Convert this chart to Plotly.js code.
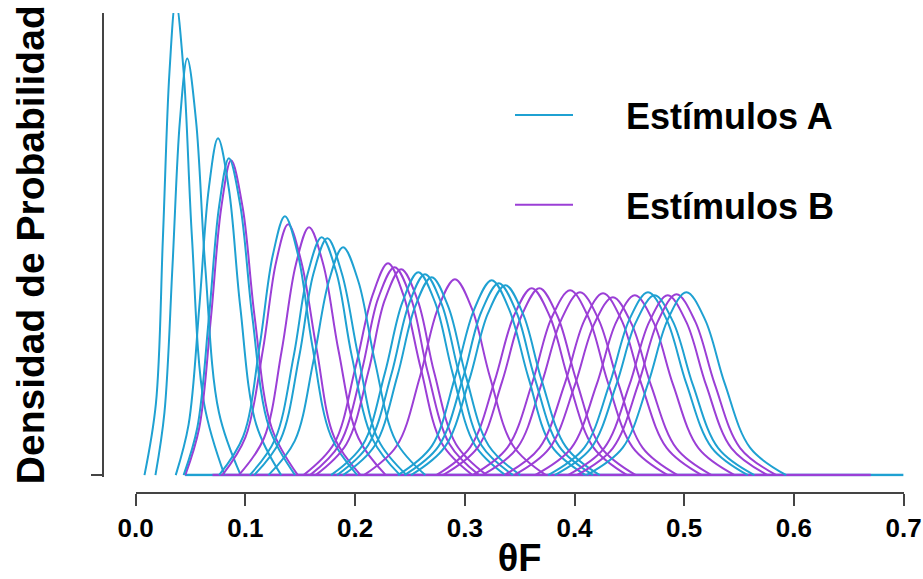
<!DOCTYPE html>
<html>
<head>
<meta charset="utf-8">
<script src="https://cdn.plot.ly/plotly-3.0.1.min.js"></script>
<style>
html, body { margin: 0; padding: 0; background: #ffffff; }
#chart { width: 923px; height: 579px; }
</style>
</head>
<body>
<div id="chart"></div>
<script>
// ---------- data ----------
const seriesNames = ['Estímulos A', 'Estímulos B'];
const xTickVals = [0, 0.1, 0.2, 0.3, 0.4, 0.5, 0.6, 0.7];
const xTickText = ['0.0', '0.1', '0.2', '0.3', '0.4', '0.5', '0.6', '0.7'];
const xTitle = 'θF';
const yTitle = 'Densidad de Probabilidad';

// Estímulos A: points along each density curve (feet, flanks, mode)
const A_x = [
  [0.008, 0.0184, 0.0248, 0.0308, 0.0365, 0.0437, 0.0513, 0.0624, 0.081],
  [0.018, 0.0262, 0.0335, 0.0403, 0.047, 0.055, 0.0634, 0.0759, 0.0957],
  [0.0365, 0.0482, 0.058, 0.0666, 0.075, 0.0849, 0.0953, 0.1099, 0.1326],
  [0.0437, 0.0562, 0.0668, 0.0761, 0.085, 0.0954, 0.1063, 0.1216, 0.1453],
  [0.076, 0.098, 0.113, 0.125, 0.136, 0.148, 0.161, 0.178, 0.202],
  [0.104, 0.127, 0.144, 0.157, 0.1695, 0.183, 0.197, 0.216, 0.241],
  [0.108, 0.132, 0.149, 0.162, 0.1747, 0.188, 0.203, 0.221, 0.247],
  [0.121, 0.145, 0.162, 0.176, 0.189, 0.203, 0.218, 0.237, 0.264],
  [0.178, 0.207, 0.227, 0.243, 0.2576, 0.273, 0.289, 0.309, 0.337],
  [0.1835, 0.212, 0.233, 0.249, 0.2637, 0.279, 0.295, 0.315, 0.344],
  [0.189, 0.218, 0.2385, 0.2546, 0.2698, 0.285, 0.301, 0.3217, 0.3506],
  [0.239, 0.270, 0.291, 0.3085, 0.3245, 0.3405, 0.358, 0.379, 0.410],
  [0.245, 0.276, 0.298, 0.315, 0.331, 0.347, 0.364, 0.386, 0.417],
  [0.251, 0.282, 0.304, 0.321, 0.337, 0.353, 0.370, 0.392, 0.423],
  [0.376, 0.409, 0.432, 0.450, 0.467, 0.484, 0.502, 0.525, 0.558],
  [0.382, 0.415, 0.438, 0.456, 0.473, 0.490, 0.508, 0.531, 0.564],
  [0.411, 0.444, 0.467, 0.485, 0.502, 0.519, 0.537, 0.560, 0.593]
];
const A_y = [
  [0, 5.18, 17.25, 29.33, 34.5, 29.33, 17.25, 5.18, 0],
  [0, 4.55, 15.15, 25.76, 30.3, 25.76, 15.15, 4.55, 0],
  [0, 3.67, 12.25, 20.82, 24.49, 20.82, 12.25, 3.67, 0],
  [0, 3.46, 11.52, 19.58, 23.04, 19.58, 11.52, 3.46, 0],
  [0, 2.82, 9.41, 16.0, 18.82, 16.0, 9.41, 2.82, 0],
  [0, 2.60, 8.65, 14.71, 17.30, 14.71, 8.65, 2.60, 0],
  [0, 2.58, 8.61, 14.64, 17.22, 14.64, 8.61, 2.58, 0],
  [0, 2.49, 8.29, 14.08, 16.57, 14.08, 8.29, 2.49, 0],
  [0, 2.21, 7.38, 12.54, 14.75, 12.54, 7.38, 2.21, 0],
  [0, 2.19, 7.31, 12.42, 14.61, 12.42, 7.31, 2.19, 0],
  [0, 2.16, 7.20, 12.23, 14.39, 12.23, 7.20, 2.16, 0],
  [0, 2.13, 7.09, 12.04, 14.17, 12.04, 7.09, 2.13, 0],
  [0, 2.09, 6.98, 11.86, 13.95, 11.86, 6.98, 2.09, 0],
  [0, 2.07, 6.91, 11.74, 13.81, 11.74, 6.91, 2.07, 0],
  [0, 2.00, 6.65, 11.31, 13.30, 11.31, 6.65, 2.00, 0],
  [0, 1.96, 6.54, 11.12, 13.08, 11.12, 6.54, 1.96, 0],
  [0, 2.00, 6.65, 11.31, 13.30, 11.31, 6.65, 2.00, 0]
];

// Estímulos B
const B_x = [
  [0.0452, 0.0579, 0.0686, 0.078, 0.087, 0.0975, 0.1085, 0.124, 0.1478],
  [0.079, 0.100, 0.116, 0.128, 0.139, 0.151, 0.165, 0.181, 0.205],
  [0.094, 0.117, 0.133, 0.146, 0.158, 0.171, 0.185, 0.203, 0.228],
  [0.153, 0.181, 0.200, 0.216, 0.230, 0.244, 0.260, 0.279, 0.307],
  [0.159, 0.186, 0.206, 0.221, 0.236, 0.251, 0.266, 0.286, 0.313],
  [0.164, 0.192, 0.212, 0.227, 0.242, 0.257, 0.272, 0.292, 0.320],
  [0.208, 0.238, 0.259, 0.2755, 0.291, 0.3065, 0.323, 0.344, 0.374],
  [0.274, 0.305, 0.327, 0.3446, 0.361, 0.3774, 0.395, 0.417, 0.448],
  [0.280, 0.312, 0.334, 0.3515, 0.368, 0.3845, 0.402, 0.424, 0.456],
  [0.307, 0.339, 0.3615, 0.379, 0.396, 0.413, 0.4305, 0.453, 0.485],
  [0.316, 0.348, 0.370, 0.388, 0.405, 0.422, 0.440, 0.462, 0.494],
  [0.336, 0.368, 0.391, 0.409, 0.426, 0.443, 0.461, 0.484, 0.516],
  [0.345, 0.377, 0.400, 0.418, 0.435, 0.452, 0.470, 0.493, 0.525],
  [0.364, 0.397, 0.420, 0.438, 0.455, 0.472, 0.490, 0.513, 0.546],
  [0.394, 0.427, 0.450, 0.468, 0.485, 0.502, 0.520, 0.543, 0.576],
  [0.402, 0.435, 0.458, 0.476, 0.493, 0.510, 0.528, 0.551, 0.584]
];
const B_y = [
  [0, 3.43, 11.45, 19.46, 22.89, 19.46, 11.45, 3.43, 0],
  [0, 2.74, 9.12, 15.50, 18.24, 15.50, 9.12, 2.74, 0],
  [0, 2.70, 9.01, 15.32, 18.02, 15.32, 9.01, 2.70, 0],
  [0, 2.31, 7.71, 13.10, 15.41, 13.10, 7.71, 2.31, 0],
  [0, 2.27, 7.56, 12.85, 15.12, 12.85, 7.56, 2.27, 0],
  [0, 2.25, 7.49, 12.72, 14.97, 12.72, 7.49, 2.25, 0],
  [0, 2.14, 7.12, 12.10, 14.24, 12.10, 7.12, 2.14, 0],
  [0, 2.04, 6.80, 11.55, 13.59, 11.55, 6.80, 2.04, 0],
  [0, 2.04, 6.80, 11.55, 13.59, 11.55, 6.80, 2.04, 0],
  [0, 2.02, 6.72, 11.42, 13.44, 11.42, 6.72, 2.02, 0],
  [0, 2.00, 6.65, 11.31, 13.30, 11.31, 6.65, 2.00, 0],
  [0, 1.98, 6.62, 11.25, 13.23, 11.25, 6.62, 1.98, 0],
  [0, 1.94, 6.47, 11.00, 12.94, 11.00, 6.47, 1.94, 0],
  [0, 1.96, 6.54, 11.12, 13.08, 11.12, 6.54, 1.96, 0],
  [0, 1.96, 6.54, 11.12, 13.08, 11.12, 6.54, 1.96, 0],
  [0, 1.97, 6.58, 11.18, 13.15, 11.18, 6.58, 1.97, 0]
];

// flat density tails along the baseline
const tailA_x = [0.045, 0.70];
const tailA_y = [0, 0];
const tailB_x = [0.07, 0.67];
const tailB_y = [0, 0];

// ---------- styling ----------
const colorA = '#1fa1d2';
const colorB = '#9b3fd6';
const fontFam = 'Liberation Sans, Arial, Helvetica, sans-serif';
const W = 923, H = 579;
// legend labels are pushed right of the short sample line by a wide space
const legendPad = '\u2003\u2004';

const traces = [];
traces.push({x: tailA_x, y: tailA_y, mode: 'lines', line: {color: colorA, width: 2.5},
  showlegend: false, hoverinfo: 'skip', legendgroup: 'A'});
traces.push({x: tailB_x, y: tailB_y, mode: 'lines', line: {color: colorB, width: 2.5},
  showlegend: false, hoverinfo: 'skip', legendgroup: 'B'});

const nMax = Math.max(A_x.length, B_x.length);
for (let i = 0; i < nMax; i++) {
  if (i < A_x.length) {
    traces.push({x: A_x[i], y: A_y[i], mode: 'lines', name: legendPad + seriesNames[0],
      legendgroup: 'A', showlegend: i === 0,
      line: {color: colorA, width: 2, shape: 'spline', smoothing: 1}});
  }
  if (i < B_x.length) {
    traces.push({x: B_x[i], y: B_y[i], mode: 'lines', name: legendPad + seriesNames[1],
      legendgroup: 'B', showlegend: i === 0,
      line: {color: colorB, width: 2, shape: 'spline', smoothing: 1}});
  }
}

const axisColor = '#444444';
const layout = {
  width: W, height: H,
  margin: {l: 0, r: 0, t: 0, b: 0, pad: 0},
  paper_bgcolor: '#ffffff', plot_bgcolor: '#ffffff',
  font: {family: fontFam, color: '#000000'},
  showlegend: true,
  legend: {
    x: 510 / W, xanchor: 'left', y: (H - 85) / H, yanchor: 'top',
    bgcolor: 'rgba(0,0,0,0)', borderwidth: 0,
    itemwidth: 58, tracegroupgap: 40,
    font: {family: fontFam, size: 36, weight: 'bold', color: '#000000'}
  },
  xaxis: {
    domain: [135.7 / W, 903.6 / W], range: [0, 0.7],
    anchor: 'free', position: (H - 493) / H,
    showline: true, linecolor: axisColor, linewidth: 2,
    ticks: 'outside', ticklen: 12, tickwidth: 2, tickcolor: axisColor,
    tickvals: xTickVals, ticktext: xTickText,
    tickfont: {family: fontFam, size: 26, weight: 'bold', color: '#000000'},
    showgrid: false, zeroline: false,
    title: {text: xTitle, standoff: 10, font: {family: fontFam, size: 38, weight: 'bold', color: '#000000'}}
  },
  yaxis: {
    domain: [(H - 476.5) / H, (H - 13) / H], range: [-0.1, 33.6],
    anchor: 'free', position: 103 / W,
    showline: true, linecolor: axisColor, linewidth: 2,
    ticks: 'outside', ticklen: 11, tickwidth: 2, tickcolor: axisColor,
    tickvals: [0], showticklabels: false,
    showgrid: false, zeroline: false,
    title: {text: yTitle + '\u2003', standoff: 33, font: {family: fontFam, size: 39, weight: 'bold', color: '#000000'}}
  }
};

Plotly.newPlot('chart', traces, layout, {staticPlot: true, displayModeBar: false});
</script>
</body>
</html>
